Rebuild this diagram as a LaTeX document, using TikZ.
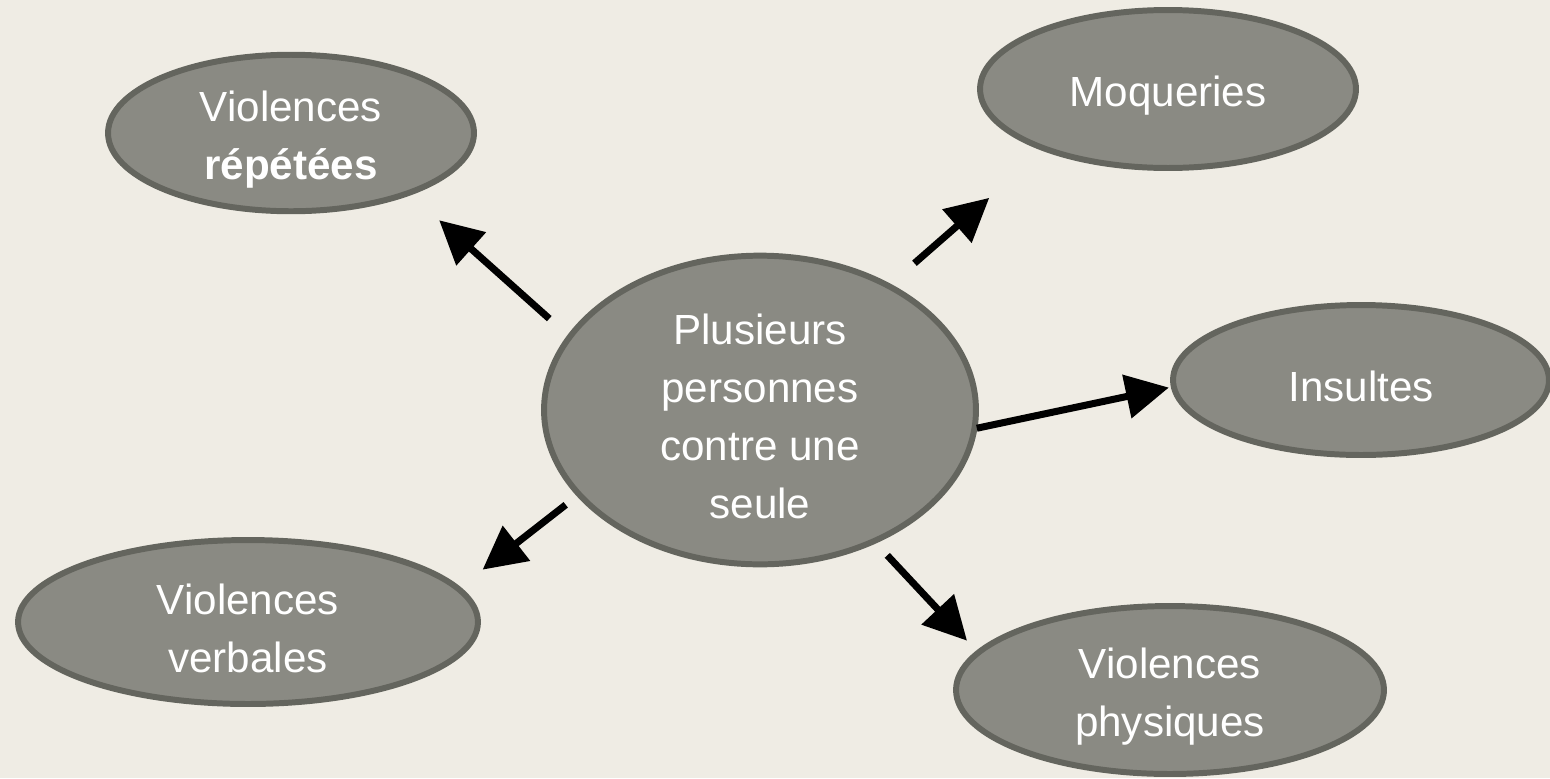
\documentclass[tikz,border=0pt]{standalone}
\usepackage{fontspec}
\setmainfont{Liberation Sans}
\usetikzlibrary{arrows.meta,shapes.geometric}

\definecolor{fond}{RGB}{239,236,228}
\definecolor{gris}{RGB}{138,138,131}
\definecolor{bord}{RGB}{100,101,94}

\def\taille{0.02cm}
\def\haut{\rule{0pt}{25pt}}

\begin{document}
\begin{tikzpicture}[x=\taille, y=-\taille,
    bulle/.style={ellipse, draw=bord, fill=gris, line width=3.4pt, text=white,
      align=center, inner sep=0pt, outer sep=0pt, font=\fontsize{24}{33}\selectfont},
    fleche/.style={line width=4pt, -{Triangle[length=0.86cm,width=0.86cm]}}]
      \useasboundingbox (0,0) rectangle (1550,778);
      \fill[fond] (0,0) rectangle (1550,778);
      % les bulles
      \node[bulle, minimum width=8.64cm, minimum height=6.16cm] (centre) at (760,410) {\haut Plusieurs\\personnes\\contre une\\seule};
      \node[bulle, minimum width=7.32cm, minimum height=3.04cm] (repetees) at (291,133) {\haut Violences\\\textbf{répétées}};
      \node[bulle, minimum width=7.52cm, minimum height=3.16cm] (moqueries) at (1168,89) {\haut Moqueries};
      \node[bulle, minimum width=7.52cm, minimum height=3.0cm] (insultes) at (1361,380) {\haut Insultes};
      \node[bulle, minimum width=9.2cm, minimum height=3.28cm] (verbales) at (248,622) {\haut Violences\\verbales};
      \node[bulle, minimum width=8.56cm, minimum height=3.36cm] (physiques) at (1170,690) {\haut Violences\\physiques};
      % les fleches
      \draw[fleche, shorten <=0.55cm, shorten >=0.82cm] (centre.159.5) -- (repetees.333.4);
      \draw[fleche, shorten <=0.69cm, shorten >=1.49cm] (centre.44.8) -- (moqueries.206.5);
      \draw[fleche, shorten <=0.05cm, shorten >=0.1cm] (centre.355) -- (insultes.182.8);
      \draw[fleche, shorten <=0.34cm, shorten >=0.62cm] (centre.205.5) -- (verbales.9);
      \draw[fleche, shorten <=0.39cm, shorten >=0.33cm] (centre.311.2) -- (physiques.169.4);
    \end{tikzpicture}
\end{document}
